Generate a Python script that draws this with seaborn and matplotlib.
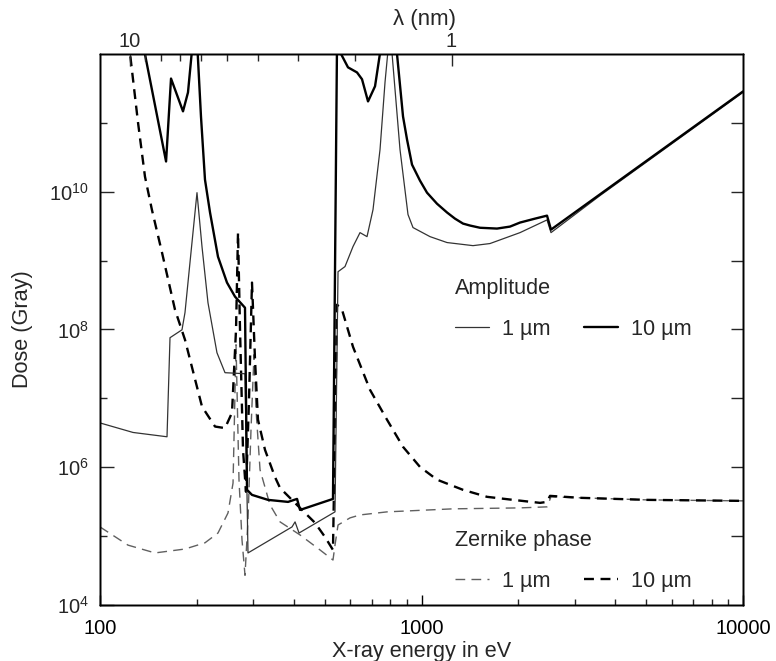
import matplotlib
matplotlib.use("Agg")
import matplotlib.pyplot as plt
import seaborn as sns
import numpy as np
from matplotlib.lines import Line2D
from matplotlib.ticker import FixedLocator, FixedFormatter, NullFormatter, NullLocator

# ---------------- data ----------------
# Amplitude contrast, 10 um (thick solid)
amp10_energy = [133.2, 160.5, 166.3, 181.2, 187.8, 194.6, 200.3, 206.1, 212.1, 219.9,
                232.8, 248.3, 263.0, 282.5, 286.6, 297.0, 333.1, 384.5, 410.1, 419.0,
                530.5, 546.0, 562.0, 590.7, 630.1, 653.1, 681.8, 716.9, 753.6, 827.3,
                839.1, 876.0, 901.5, 934.2, 989.3, 1040.2, 1117.5, 1200.6, 1271, 1346.3,
                1416, 1520.6, 1717.5, 1885, 2025, 2254, 2457, 2528, 10000]
amp10_dose = [2.3e12, 2.75e10, 4.4e11, 1.47e11, 2.77e11, 1.6e12, 1.6e12, 1.24e11, 1.5e10, 5.0e9,
              1.14e9, 4.8e8, 3.0e8, 2.07e8, 4.7e5, 3.97e5, 3.36e5, 3.14e5, 3.47e5, 2.4e5,
              3.47e5, 1.4e12, 1.0e12, 6.4e11, 5.4e11, 4.3e11, 2.05e11, 3.4e11, 1.6e12, 1.6e12,
              1.0e12, 1.24e11, 5.74e10, 2.48e10, 1.45e10, 9.7e9, 6.7e9, 5.0e9, 4.07e9, 3.45e9,
              3.23e9, 3.0e9, 2.92e9, 3.12e9, 3.57e9, 4.07e9, 4.5e9, 2.82e9, 2.86e11]

# Amplitude contrast, 1 um (thin solid)
amp1_energy = [100, 126.7, 161.6, 165.1, 179.9, 183.8, 190.5, 200.3, 207.6, 216.7,
               231.1, 244.8, 282.5, 288.6, 395.6, 404.3, 416.0, 538.2, 550.0, 578.2,
               612.3, 643.8, 676.9, 706.6, 743.0, 770.1, 798.1, 857.3, 907.8, 940.9,
               1062.9, 1200.6, 1446.2, 1633.2, 2025, 2457, 2528, 3591, 10000]
amp1_dose = [4.4e6, 3.2e6, 2.77e6, 7.6e7, 9.9e7, 1.76e8, 9.4e8, 9.7e9, 1.6e9, 2.45e8,
             4.6e7, 2.36e7, 2.28e7, 5.7e4, 1.36e5, 1.61e5, 1.11e5, 2.25e5, 6.9e8, 8.2e8,
             1.6e9, 2.55e9, 2.23e9, 5.5e9, 4.1e10, 3.9e11, 2.3e12, 4.1e10, 4.67e9, 3.02e9,
             2.23e9, 1.83e9, 1.65e9, 1.77e9, 2.55e9, 3.9e9, 2.55e9, 8.8e9, 2.77e11]

# Zernike phase contrast, 10 um (thick dashed)
zp10_energy = [122.6, 131.3, 138.0, 145.0, 155.9, 171.1, 183.8, 207.6, 227.9, 244.8,
               257.4, 264.9, 268.7, 272.6, 278.5, 284.5, 290.7, 297.0, 303.5, 310.0,
               326.0, 350.2, 363.1, 425.0, 466.4, 501.1, 530.5, 546.0, 565.9, 612.3,
               691.6, 781.2, 876.0, 989.3, 1117.5, 1346.3, 1598.6, 1926, 2337, 2457,
               2510, 3112, 5028, 10000]
zp10_dose = [1.6e12, 1.01e11, 1.66e10, 5.5e9, 1.31e9, 1.94e8, 7.1e7, 7.6e6, 3.9e6, 3.7e6,
             6.2e6, 9.9e7, 2.55e9, 9.9e7, 1.79e6, 4.4e5, 9.5e6, 4.8e8, 3.64e7, 4.9e6,
             1.79e6, 7.2e5, 5.0e5, 2.4e5, 1.56e5, 9.7e4, 6.3e4, 2.29e8, 1.94e8, 5.6e7,
             1.33e7, 4.9e6, 1.98e6, 1.01e6, 6.6e5, 4.7e5, 3.72e5, 3.36e5, 3.04e5, 3.14e5,
             3.84e5, 3.6e5, 3.36e5, 3.25e5]

# Zernike phase contrast, 1 um (thin dashed)
zp1_energy = [100, 122.2, 148.3, 183.8, 212.1, 232.8, 250.1, 259.3, 264.9, 270.6,
              276.5, 282.5, 288.6, 294.9, 301.3, 305.7, 314.6, 337.9, 363.1, 419.0,
              483.4, 530.5, 538.2, 550.0, 599.3, 643.8, 781.2, 1253.3, 2025, 2457,
              2528, 3112, 5028, 10000]
zp1_dose = [1.36e5, 7.4e4, 5.7e4, 6.5e4, 8.0e4, 1.11e5, 2.17e5, 5.9e5, 6.0e7, 6.6e5,
            8.8e4, 2.7e4, 1.72e5, 3.5e6, 4.3e7, 6.8e6, 9.2e5, 2.84e5, 1.61e5, 1.04e5,
            6.3e4, 4.5e4, 7.4e4, 1.45e5, 1.84e5, 2.03e5, 2.25e5, 2.49e5, 2.57e5, 2.66e5,
            3.72e5, 3.6e5, 3.36e5, 3.25e5]

x_major = [100, 1000, 10000]
x_major_labels = ["100", "1000", "10000"]
y_major = [1e4, 1e6, 1e8, 1e10]
y_major_labels = [r"$10^{4}$", r"$10^{6}$", r"$10^{8}$", r"$10^{10}$"]
lambda_major = [10, 1]
lambda_minor = [2, 3, 4, 5, 6, 7, 8, 9]
HC = 1239.84  # eV*nm

# ---------------- style ----------------
sns.set_theme(style="ticks")
plt.rcParams["font.family"] = ["Liberation Sans", "DejaVu Sans"]
plt.rcParams["mathtext.default"] = "regular"
plt.rcParams["axes.linewidth"] = 1.0
FS = 14.5     # tick labels
FL = 15.6     # axis labels / legend text

THIN_SOLID = dict(color="#333333", linewidth=0.9, linestyle="-")
THICK_SOLID = dict(color="black", linewidth=1.7, linestyle="-")
THIN_DASH = dict(color="#606060", linewidth=1.0, linestyle=(0, (7, 4.5)))
THICK_DASH = dict(color="black", linewidth=1.7, linestyle=(0, (4.2, 2.8)))

fig = plt.figure(figsize=(7.76, 6.61), dpi=100)
ax = fig.add_axes([100 / 776, 1 - 605 / 661, 643 / 776, 551 / 661])
ax.set_xscale("log")
ax.set_yscale("log")

axr = ax.twinx()
axt = ax.twiny()

for E, D, st in [(zp1_energy, zp1_dose, THIN_DASH),
                 (zp10_energy, zp10_dose, THICK_DASH),
                 (amp1_energy, amp1_dose, THIN_SOLID),
                 (amp10_energy, amp10_dose, THICK_SOLID)]:
    sns.lineplot(x=E, y=D, ax=ax, estimator=None, sort=False, legend=False, **st)

ax.set_xlim(100, 10000)
ax.set_ylim(1e4, 1e12)

ax.xaxis.set_major_locator(FixedLocator(x_major))
ax.xaxis.set_major_formatter(FixedFormatter(x_major_labels))
x_minor = [m * d for d in (100, 1000) for m in range(2, 10)]
ax.xaxis.set_minor_locator(FixedLocator(x_minor))
ax.xaxis.set_minor_formatter(NullFormatter())
ax.yaxis.set_major_locator(FixedLocator(y_major))
ax.yaxis.set_major_formatter(FixedFormatter(y_major_labels))
ax.yaxis.set_minor_locator(FixedLocator([1e5, 1e7, 1e9, 1e11]))
ax.yaxis.set_minor_formatter(NullFormatter())

ax.tick_params(axis="x", which="major", direction="in", length=7.5, width=1,
               labelsize=FS, pad=10, top=False, colors="black")
ax.tick_params(axis="x", which="minor", direction="in", length=4, width=1, top=False)
ax.tick_params(axis="y", which="major", direction="in", length=10, width=1,
               labelsize=FS, pad=8, right=False)
ax.tick_params(axis="y", which="minor", direction="in", length=5, width=1, right=False)

# right axis ticks (every decade)
axr.set_yscale("log")
axr.set_ylim(1e4, 1e12)
axr.yaxis.set_major_locator(FixedLocator([1e5, 1e6, 1e7, 1e8, 1e9, 1e10, 1e11]))
axr.yaxis.set_minor_locator(NullLocator())
axr.tick_params(axis="y", which="major", direction="in", length=8.5, width=1,
                labelright=False)

# top wavelength axis
axt.set_xscale("log")
axt.set_xlim(100, 10000)
axt.xaxis.set_major_locator(FixedLocator([HC / l for l in lambda_major]))
axt.xaxis.set_major_formatter(FixedFormatter([str(l) for l in lambda_major]))
axt.xaxis.set_minor_locator(FixedLocator([HC / l for l in lambda_minor]))
axt.xaxis.set_minor_formatter(NullFormatter())
axt.tick_params(axis="x", which="major", direction="in", length=8.5, width=1,
                labelsize=FS, pad=2)
axt.tick_params(axis="x", which="minor", direction="in", length=5, width=1)
axt.set_xlabel("λ (nm)", fontsize=16)
axt.xaxis.set_label_coords(0.505, 1.052)

for a in (ax, axr, axt):
    for s in a.spines.values():
        s.set_linewidth(1.0)
        s.set_color("black")

ax.set_xlabel("X-ray energy in eV", fontsize=FL)
ax.xaxis.set_label_coords(0.5, -0.066)
ax.set_ylabel("Dose (Gray)", fontsize=FL)
ax.yaxis.set_label_coords(-0.104, 0.5)

# legends
def handle(st):
    return Line2D([], [], **st)

common = dict(ncol=2, frameon=False, loc="upper left", bbox_transform=ax.transAxes,
              borderpad=0, handlelength=1.56, handletextpad=0.6, columnspacing=1.56,
              fontsize=FL, title_fontsize=FL, alignment="left", labelspacing=0.9)
leg1 = axt.legend([handle(THIN_SOLID), handle(THICK_SOLID)], ["1 µm", "10 µm"],
                  title="Amplitude", bbox_to_anchor=(0.535, 0.613), **common)
axt.add_artist(leg1)
leg2 = axt.legend([handle(THIN_DASH), handle(THICK_DASH)], ["1 µm", "10 µm"],
                  title="Zernike phase", bbox_to_anchor=(0.535, 0.155), **common)

fig.savefig("out.png", dpi=100)
